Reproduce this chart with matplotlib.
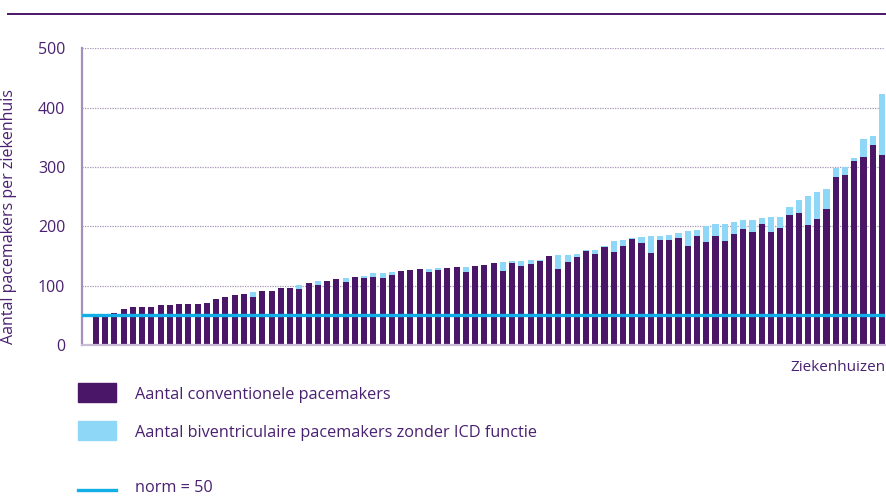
import numpy as np
import matplotlib.pyplot as plt
from matplotlib.lines import Line2D
from matplotlib.patches import Rectangle

plt.rcParams['font.family'] = ['Open Sans', 'DejaVu Sans']

# ── data ─────────────────────────────────────────────────────
conventioneel = [2, 49, 49, 54, 60, 64, 64, 64, 67, 67,
                 69, 69, 69, 71, 77, 81, 84, 86, 81, 92,
                 92, 97, 97, 94, 104, 101, 108, 111, 106, 114,
                 113, 114, 113, 118, 125, 126, 128, 123, 126, 130,
                 131, 123, 133, 135, 138, 125, 138, 133, 136, 141,
                 150, 128, 140, 148, 158, 153, 165, 157, 167, 178,
                 172, 155, 177, 177, 180, 167, 184, 173, 184, 175,
                 187, 195, 190, 204, 190, 197, 219, 222, 202, 212,
                 229, 283, 286, 310, 317, 337, 320]
biventriculair = [0, 0, 0, 0, 0, 0, 0, 0, 0, 0,
                  0, 0, 0, 0, 0, 0, 0, 0, 8, 0,
                  0, 0, 0, 7, 0, 7, 0, 0, 7, 0,
                  3, 7, 8, 5, 0, 0, 0, 5, 4, 0,
                  0, 8, 0, 0, 0, 15, 3, 8, 7, 2,
                  0, 23, 11, 5, 2, 7, 2, 18, 10, 2,
                  10, 29, 7, 8, 9, 25, 10, 27, 20, 29,
                  20, 16, 21, 10, 26, 19, 13, 22, 49, 46,
                  34, 15, 14, 5, 30, 15, 103]
norm = 50
yticks = [0, 100, 200, 300, 400, 500]

DARK = '#4a1668'
LIGHT = '#8fd7f6'
NORM = '#12aee6'
TEXT = '#4a2070'

fig = plt.figure(figsize=(8.86, 4.98), dpi=100)
ax = fig.add_axes([0.0926, 0.307, 0.906, 0.596])

x = np.arange(len(conventioneel))
ax.bar(x, conventioneel, width=0.66, color=DARK, zorder=2)
ax.bar(x, biventriculair, width=0.66, bottom=conventioneel, color=LIGHT, zorder=2)
ax.axhline(norm, color=NORM, lw=2.4, zorder=3)

ax.set_xlim(-0.5, len(x) - 0.7)
ax.set_ylim(0, 500)
ax.set_yticks(yticks)
ax.set_xticks([])
ax.tick_params(axis='y', length=0, pad=12, labelsize=11.5, labelcolor=TEXT)
ax.yaxis.grid(True, linestyle=(0, (1, 1)), color='#a796b8', lw=0.9, zorder=0)

for s in ['top', 'right']:
    ax.spines[s].set_visible(False)
ax.spines['left'].set_color('#a48fbd')
ax.spines['left'].set_linewidth(1.6)
ax.spines['bottom'].set_color('#c9bcd6')
ax.spines['bottom'].set_linewidth(1.6)

ax.set_ylabel('Aantal pacemakers per ziekenhuis', fontsize=11.5, color=TEXT)
ax.yaxis.set_label_coords(-0.081, 0.434)
fig.text(0.999, 0.262, 'Ziekenhuizen', ha='right', va='center', fontsize=11, color=TEXT)

# top rule
fig.add_artist(Line2D([0.009, 1.0], [0.972, 0.972], color=DARK, lw=1.4))

# legend, drawn by hand
fig.patches.append(Rectangle((0.088, 0.193), 0.043, 0.038, transform=fig.transFigure,
                             color=DARK, figure=fig))
fig.text(0.152, 0.207, 'Aantal conventionele pacemakers', va='center', fontsize=11.7, color=TEXT)
fig.patches.append(Rectangle((0.088, 0.1165), 0.043, 0.038, transform=fig.transFigure,
                             color=LIGHT, figure=fig))
fig.text(0.152, 0.1305, 'Aantal biventriculaire pacemakers zonder ICD functie',
         va='center', fontsize=11.7, color=TEXT)
fig.add_artist(Line2D([0.088, 0.131], [0.016, 0.016], color=NORM, lw=2.4))
fig.text(0.152, 0.004, 'norm = 50', va='bottom', fontsize=11.7, color=TEXT)

fig.savefig('out.png', dpi=100)
